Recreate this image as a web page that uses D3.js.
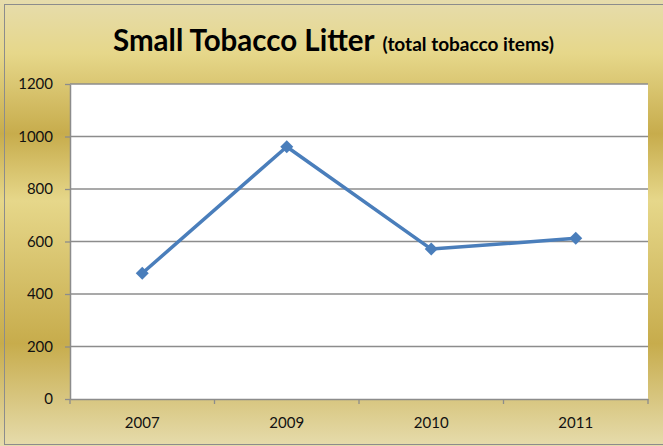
<!DOCTYPE html>
<html>
<head>
<meta charset="utf-8">
<script src="https://cdn.jsdelivr.net/npm/d3@7"></script>
<style>
  html, body { margin: 0; padding: 0; background: #fff; }
  svg { display: block; }
</style>
</head>
<body>
<div id="chart"></div>
<script>
// Data
const years = ['2007', '2009', '2010', '2011'];
const items = [479, 961, 571, 612];
const yTicks = [0, 200, 400, 600, 800, 1000, 1200];

const width = 663;
const height = 446;
const plot = {left: 70, right: 648, top: 84, bottom: 399};

const svg = d3.select('#chart')
    .append('svg')
    .attr('width', width)
    .attr('height', height);

// Gold preset gradient background
const defs = svg.append('defs');
const grad = defs.append('linearGradient')
    .attr('id', 'gold')
    .attr('x1', 0).attr('y1', 0)
    .attr('x2', 0).attr('y2', 1);
[[0, '#e6dcac'], [0.12, '#e6d78a'], [0.30, '#c7ac4c'], [0.45, '#e6d78a'], [0.77, '#c7ac4c'], [1, '#e6dcac']]
    .forEach(s => grad.append('stop').attr('offset', s[0]).attr('stop-color', s[1]));

svg.append('rect')
    .attr('x', 0).attr('y', 0)
    .attr('width', width).attr('height', height)
    .attr('fill', 'url(#gold)');

// outer border
svg.append('rect')
    .attr('x', 4.5).attr('y', 4.5)
    .attr('width', width).attr('height', height - 6)
    .attr('fill', 'none')
    .attr('stroke', '#8c8c8c')
    .attr('stroke-width', 1);

// Scales
const x = d3.scaleBand()
    .domain(years)
    .range([plot.left, plot.right]);

const y = d3.scaleLinear()
    .domain([0, 1200])
    .range([plot.bottom, plot.top]);

// Plot area
svg.append('rect')
    .attr('x', plot.left).attr('y', plot.top)
    .attr('width', plot.right - plot.left)
    .attr('height', plot.bottom - plot.top)
    .attr('fill', '#fff');

// Gridlines
svg.append('g')
    .selectAll('line')
    .data(yTicks.filter(d => d > 0))
    .join('line')
    .attr('x1', plot.left).attr('x2', plot.right)
    .attr('y1', d => y(d)).attr('y2', d => y(d))
    .attr('stroke', '#8c8c8c')
    .attr('stroke-width', 1.3);

// Y axis
const yAxis = svg.append('g')
    .attr('transform', `translate(${plot.left},0)`)
    .call(d3.axisLeft(y).tickValues(yTicks).tickFormat(d3.format('d'))
        .tickSize(5).tickPadding(12).tickSizeOuter(0));

// X axis
const xAxis = svg.append('g')
    .attr('transform', `translate(0,${plot.bottom})`)
    .call(d3.axisBottom(x).tickSize(0).tickPadding(18).tickSizeOuter(0));

// category boundary ticks
xAxis.append('g')
    .selectAll('line')
    .data(years.map(d => x(d)).concat([x(years[years.length - 1]) + x.bandwidth()]))
    .join('line')
    .attr('x1', d => d).attr('x2', d => d)
    .attr('y1', 0).attr('y2', 5)
    .attr('stroke', '#8c8c8c')
    .attr('stroke-width', 1.3);

[yAxis, xAxis].forEach(g => {
    g.select('.domain').attr('stroke', '#8c8c8c').attr('stroke-width', 1.5);
    g.selectAll('.tick line').attr('stroke', '#8c8c8c').attr('stroke-width', 1.3);
    g.selectAll('.tick text')
        .attr('fill', '#111')
        .style('font-family', 'Lato, "Open Sans", sans-serif')
        .style('font-size', '15px');
});

// Line
const points = years.map((d, i) => ({year: d, value: items[i]}));

svg.append('path')
    .datum(points)
    .attr('fill', 'none')
    .attr('stroke', '#4a7ebb')
    .attr('stroke-width', 3.5)
    .attr('stroke-linejoin', 'round')
    .attr('d', d3.line()
        .x(d => x(d.year) + x.bandwidth() / 2)
        .y(d => y(d.value)));

// Diamond markers
svg.append('g')
    .selectAll('path')
    .data(points)
    .join('path')
    .attr('transform', d => `translate(${x(d.year) + x.bandwidth() / 2},${y(d.value)})`)
    .attr('d', 'M0,-6.5L6.5,0L0,6.5L-6.5,0Z')
    .attr('fill', '#4a7ebb');

// Title
const title = svg.append('text')
    .attr('x', 113)
    .attr('y', 51)
    .attr('fill', '#000')
    .style('font-family', 'Lato, "Open Sans", sans-serif')
    .style('font-weight', 'bold');

title.append('tspan')
    .style('font-size', '29.5px')
    .text('Small Tobacco Litter');

title.append('tspan')
    .attr('dx', 8)
    .style('font-size', '19px')
    .text('(total tobacco items)');
</script>
</body>
</html>
